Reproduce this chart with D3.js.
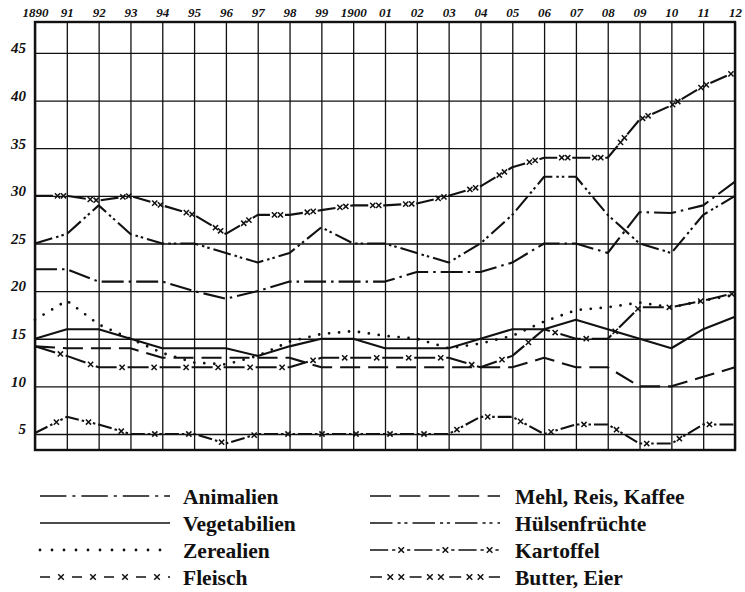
<!DOCTYPE html>
<html lang="de">
<head>
<meta charset="UTF-8">
<title>Preisindex 1890-1912</title>
<script src="https://cdn.jsdelivr.net/npm/d3@7/dist/d3.min.js"></script>
<style>
  body { margin: 0; background: #fff; }
  svg { display: block; }
</style>
</head>
<body>
<svg id="main" width="745" height="592"></svg>
<script>
    // years along the top
    const years = ["1890","91","92","93","94","95","96","97","98","99","1900",
                   "01","02","03","04","05","06","07","08","09","10","11","12"];
    const yTicks = [5, 10, 15, 20, 25, 30, 35, 40, 45];

    // values
    const animalien    = [22.3, 22.3, 21, 21, 21, 20, 19.2, 20, 21, 21, 21, 21, 22, 22, 22, 23, 25, 25, 24, 28.3, 28.2, 29, 31.5];
    const vegetabilien = [15, 16, 16, 15, 14, 14, 14, 13.2, 14.2, 15, 15, 14, 14, 14, 15, 16, 16, 17, 16, 15, 14, 16, 17.3];
    const zerealien    = [17, 19, 16.5, 15, 13.5, 12.5, 12.3, 13.2, 14.7, 15.5, 15.8, 15.3, 15, 14, 14.5, 15.3, 16.8, 18, 18.3, 18.8, 18.3, 19, 19.6];
    const fleisch      = [14.2, 13.2, 12, 12, 12, 12, 12, 12, 12, 13, 13, 13, 13, 13, 12, 13.2, 16, 15, 15, 18.3, 18.3, 19, 19.8];
    const mehl         = [14.2, 14, 14, 14, 13, 13, 13, 13, 13, 12, 12, 12, 12, 12, 12, 12, 13, 12, 12, 10, 10, 11, 12];
    const huelsen      = [25, 26, 29, 26, 25, 25, 24, 23, 24, 26.7, 25, 25, 24, 23, 25, 28, 32, 32, 28, 25, 24, 28, 30];
    const kartoffel    = [5.1, 6.8, 6, 5, 5, 5, 4, 5, 5, 5, 5, 5, 5, 5, 6.8, 6.8, 5, 6, 6, 4, 4, 6, 6];
    const butter       = [30, 30, 29.5, 30, 29, 28, 26, 28, 28, 28.5, 29, 29, 29.2, 30, 31, 33, 34, 34, 34, 38, 39.5, 41.5, 43];

    const leftNames  = ["Animalien", "Vegetabilien", "Zerealien", "Fleisch"];
    const rightNames = ["Mehl, Reis, Kaffee", "Hülsenfrüchte", "Kartoffel", "Butter, Eier"];

    const seriesData = {
        "Animalien": animalien, "Vegetabilien": vegetabilien, "Zerealien": zerealien,
        "Fleisch": fleisch, "Mehl, Reis, Kaffee": mehl, "Hülsenfrüchte": huelsen,
        "Kartoffel": kartoffel, "Butter, Eier": butter
    };

    // line styles: dash pattern, cross marks at offsets inside each period,
    // lk = stretch of the pattern in the legend sample
    const styles = {
        "Animalien":          {dash: [22, 5, 2.5, 5], lk: 1.2},
        "Vegetabilien":       {dash: null, lk: 1},
        "Zerealien":          {dash: [0, 10], cap: "round", w: 2.8, lw: 2.6, lk: 1.2},
        "Fleisch":            {dash: [21, 11], marks: [26.5], lk: 1, ld: [10, 22]},
        "Mehl, Reis, Kaffee": {dash: [20, 8], lk: 1.05},
        "Hülsenfrüchte":      {dash: [18, 4, 2.5, 3, 2.5, 4], lk: 1.25},
        "Kartoffel":          {dash: [14, 3, 2.5, 9, 2.5, 3], marks: [24], lk: 1.3},
        "Butter, Eier":       {dash: [18, 15], marks: [22.5, 28.5], lk: 1.2, ld: [10, 23]}
    };

    const svg = d3.select("#main");
    const mLeft = 35, mRight = 735, mTop = 22, mBottom = 450;

    const x = d3.scalePoint().domain(years).range([mLeft, mRight]);
    const y = d3.scaleLinear().domain([3.32, 48.25]).range([mBottom, mTop]);

    // grid + labels via axes
    const xAxis = svg.append("g")
        .attr("transform", `translate(0,${mTop})`)
        .call(d3.axisTop(x).tickSize(-(mBottom - mTop)).tickPadding(5));
    xAxis.select(".domain").remove();
    xAxis.selectAll("line").attr("stroke", "#111").attr("stroke-width", 1.3);
    xAxis.selectAll("text")
        .attr("font-family", "Liberation Serif, serif")
        .attr("font-style", "italic").attr("font-weight", "bold")
        .attr("font-size", 13).attr("fill", "#111");

    const yAxis = svg.append("g")
        .attr("transform", `translate(${mLeft},0)`)
        .call(d3.axisLeft(y).tickValues(yTicks).tickSize(-(mRight - mLeft)).tickPadding(9));
    yAxis.select(".domain").remove();
    yAxis.selectAll("line").attr("stroke", "#111").attr("stroke-width", 1.3);
    yAxis.selectAll("text")
        .attr("y", -5)
        .attr("font-family", "Liberation Serif, serif")
        .attr("font-style", "italic").attr("font-weight", "bold")
        .attr("font-size", 15).attr("fill", "#111");

    svg.append("rect")
        .attr("x", mLeft).attr("y", mTop)
        .attr("width", mRight - mLeft).attr("height", mBottom - mTop)
        .attr("fill", "none").attr("stroke", "#111").attr("stroke-width", 2.4);

    function cross(g, cx, cy, s, w) {
        g.append("path")
            .attr("d", `M${cx - s},${cy - s}L${cx + s},${cy + s}M${cx + s},${cy - s}L${cx - s},${cy + s}`)
            .attr("stroke", "#111").attr("stroke-width", w).attr("fill", "none");
    }

    function styledLine(g, pts, st, k, lw, dash, ms) {
        dash = dash || st.dash;
        const p = g.append("path")
            .attr("d", d3.line()(pts))
            .attr("fill", "none").attr("stroke", "#111")
            .attr("stroke-width", st.w || lw)
            .attr("stroke-linejoin", "round")
            .attr("stroke-linecap", st.cap || "butt");
        if (dash) p.attr("stroke-dasharray", dash.map(v => v * k).join(","));
        if (st.marks) {
            const node = p.node();
            const L = node.getTotalLength();
            const per = d3.sum(dash) * k;
            // marks sit in the gap right after each dash
            const base = dash[0] * k;
            const rel = st.marks.map(o => (o - st.dash[0]) / (d3.sum(st.dash) - st.dash[0]));
            const gap = per - base;
            for (let s = 0; s < L; s += per) {
                rel.forEach(r => {
                    const l = s + base + r * gap;
                    if (l < L - 3) {
                        const pt = node.getPointAtLength(l);
                        cross(g, pt.x, pt.y, ms, 1.5);
                    }
                });
            }
        }
    }

    const lines = svg.append("g");
    Object.keys(seriesData).forEach(name => {
        const pts = seriesData[name].map((v, i) => [x(years[i]), y(v)]);
        styledLine(lines, pts, styles[name], 1, 2.1, null, 2.6);
    });

    // legend
    const legend = svg.append("g");
    const rowY = [496, 523, 550, 577];
    function legendColumn(names, x0, x1, tx) {
        names.forEach((name, i) => {
            const st = styles[name];
            styledLine(legend, [[x0, rowY[i]], [x1, rowY[i]]], st, st.lk, 1.6, st.ld, 2.8);
            legend.append("text")
                .attr("x", tx).attr("y", rowY[i]).attr("dy", "0.35em")
                .attr("font-family", "Liberation Serif, serif")
                .attr("font-weight", "bold").attr("font-size", 21.5)
                .attr("fill", "#111")
                .text(name);
        });
    }
    legendColumn(leftNames, 40, 170, 183);
    legendColumn(rightNames, 370, 500, 515);
</script>
</body>
</html>
